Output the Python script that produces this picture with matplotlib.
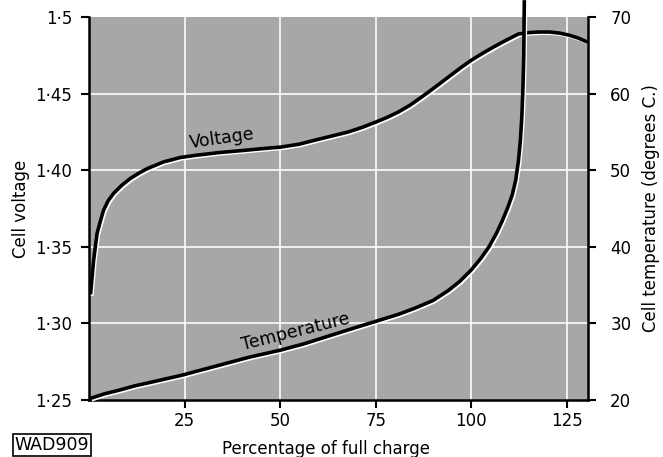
import matplotlib
matplotlib.use('Agg')
import matplotlib.pyplot as plt
import matplotlib.patheffects as pe

# voltage curve (percent of full charge, volts)
volt_pct = [0.4, 1.2, 2.1, 3.0, 3.8, 5.0, 6.4, 8.5, 10.8, 13, 15.2, 19.5, 23.9, 28.2, 34, 40, 45,
            50.2, 55, 58.9, 63, 67.7, 71.5, 75, 78, 80.9, 84, 87, 89.7, 92.3, 95, 97.5, 100,
            102.8, 105.5, 108, 110, 112.3, 115, 117.6, 120.5, 123, 125.5, 128, 130.5]
volt_val = [1.319, 1.341, 1.3586, 1.367, 1.3738, 1.380, 1.3848, 1.390, 1.3946, 1.398, 1.401, 1.4054,
            1.4083, 1.4098, 1.4115, 1.4128, 1.414, 1.4151, 1.417, 1.4195, 1.422, 1.4249, 1.428, 1.4314,
            1.4345, 1.438, 1.4425, 1.4478, 1.4527, 1.4576, 1.4627, 1.4674, 1.4718, 1.4761, 1.480,
            1.4834, 1.486, 1.4889, 1.4898, 1.4902, 1.4902, 1.4895, 1.4882, 1.4862, 1.4835]

# temperature curve (percent of full charge, degrees C)
temp_pct = [0.3, 4, 8, 12, 16.5, 20, 24, 30, 36, 42, 50, 56, 63, 70, 76.5, 81, 85.3, 90, 94, 97,
            100, 102.5, 104.6, 106.5, 108, 109.5, 110.7, 111.6, 112.3, 112.8, 113.2, 113.5, 113.7,
            113.8, 113.85]
temp_val = [20.2, 20.8, 21.3, 21.85, 22.35, 22.75, 23.2, 24.0, 24.8, 25.6, 26.5, 27.3, 28.4, 29.5,
            30.5, 31.2, 32.0, 33.0, 34.3, 35.5, 37.0, 38.5, 40.0, 41.7, 43.3, 45.1, 46.8, 48.7, 51.2,
            53.8, 57.0, 61.0, 65.0, 70.0, 72.2]

x_ticks = [25, 50, 75, 100, 125]
volt_ticks = [1.25, 1.30, 1.35, 1.40, 1.45, 1.5]
volt_labels = ['1·25', '1·30', '1·35', '1·40', '1·45', '1·5']
temp_ticks = [20, 30, 40, 50, 60, 70]

matplotlib.rcParams.update({'font.size': 12, 'font.family': 'DejaVu Sans'})

fig = plt.figure(figsize=(6.63, 4.57), dpi=100)
ax = fig.add_axes([89/663, 1-400/457, (588-89)/663, (400-17)/457])
ax2 = ax.twinx()

ax.set_facecolor('#a7a7a7')
ax.set_xlim(0, 130.5)
ax.set_ylim(1.25, 1.5)
ax2.set_ylim(20, 70)

# white grid on the grey paper
for xv in x_ticks:
    ax.axvline(xv, color='white', lw=1.3, alpha=0.9, zorder=1)
for yv in volt_ticks[1:-1]:
    ax.axhline(yv, color='white', lw=1.3, alpha=0.9, zorder=1)

shadow = [pe.SimpleLineShadow(offset=(1.2, -1.2), shadow_color='white', alpha=1.0, linewidth=2.0), pe.Normal()]
ax.plot(volt_pct, volt_val, color='black', lw=2.6, zorder=3, path_effects=shadow, solid_capstyle='butt')
ax2.plot(temp_pct, temp_val, color='black', lw=2.6, zorder=3, path_effects=shadow, clip_on=False,
         solid_capstyle='butt')

ax.text(34.8, 1.4205, 'Voltage', rotation=8, ha='center', va='center', fontsize=12.5)
ax2.text(54, 28.9, 'Temperature', rotation=14, ha='center', va='center', fontsize=12.5)

# axes styling
ax.spines['top'].set_visible(False)
ax2.spines['top'].set_visible(False)
for s in ['left', 'bottom']:
    ax.spines[s].set_linewidth(1.8)
ax2.spines['right'].set_linewidth(1.8)
ax2.spines['left'].set_visible(False)
ax2.spines['bottom'].set_visible(False)

ax.set_xticks(x_ticks)
ax.set_yticks(volt_ticks)
ax.set_yticklabels(volt_labels)
ax2.set_yticks(temp_ticks)
ax.tick_params(axis='x', direction='out', length=6, width=1.5, pad=3, labelsize=12)
ax.tick_params(axis='y', direction='out', length=6, width=1.5, pad=6, labelsize=12)
ax2.tick_params(direction='out', length=6, width=1.5, pad=10, labelsize=12)

ax.set_xlabel('Percentage of full charge', fontsize=12, labelpad=4)
ax.set_ylabel('Cell voltage', fontsize=12, labelpad=4)
ax2.set_ylabel('Cell temperature (degrees C.)', fontsize=12, labelpad=8)
ax.xaxis.set_label_coords((326-89)/(588-89), -(440-400)/383)

fig.text(52/663, 1-445/457, 'WAD909', ha='center', va='center', fontsize=12.5,
         bbox=dict(boxstyle='square,pad=0.12', facecolor='white', edgecolor='black', lw=1.2))

fig.savefig('out.png', dpi=100, facecolor='white')
